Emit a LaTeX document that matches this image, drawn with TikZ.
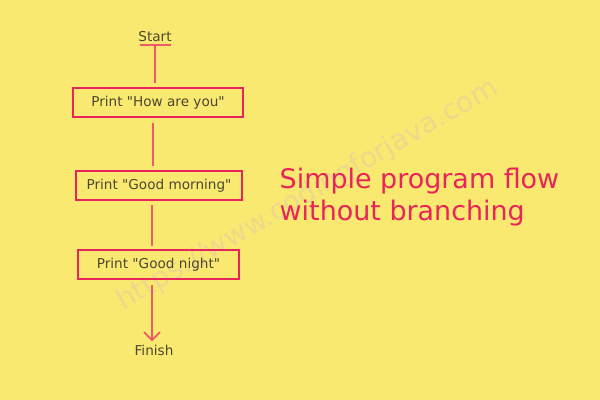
\documentclass[tikz,border=0pt]{standalone}
\usepackage{fontspec}
\setmainfont{DejaVu Sans}[Ligatures=TeXOff]
\usetikzlibrary{arrows.meta}
\definecolor{bg}{HTML}{FAE970}
\definecolor{boxc}{HTML}{E8245A}
\definecolor{linec}{HTML}{EE5A66}
\definecolor{txt}{HTML}{4A4630}
\definecolor{wm}{HTML}{EDD98C}
\begin{document}
\begin{tikzpicture}[x=0.75pt,y=-0.75pt,
  pbox/.style={draw=boxc,line width=1.5pt,rectangle,minimum height=22pt,text=txt,font=\fontsize{10.2}{12}\selectfont,inner sep=0pt},
  conn/.style={draw=linec,line width=1.3pt},
  lbl/.style={text=txt,font=\fontsize{10.2}{12}\selectfont}]
\fill[bg] (0,0) rectangle (600,400);
\useasboundingbox (0,0) rectangle (600,400);
\node[text=wm,rotate=30,font=\fontsize{21}{24}\selectfont] (wmk) at (308,195) {https://www.codingforjava.com};
\node[lbl] (start) at (155,37) {Start};
\coordinate (bl) at (140,45); \coordinate (br) at (171,45); \coordinate (bm) at (155,45);
\draw[conn] (bl) -- (br);
\node[pbox,minimum width=127.5pt] (b1) at (158,102.5) {Print "How are you"};
\node[pbox,minimum width=124.5pt] (b2) at (159,185.5) {Print "Good morning"};
\node[pbox,minimum width=120.75pt] (b3) at (158.5,264.5) {Print "Good night"};
\node[lbl] (fin) at (154,350) {Finish};
\draw[conn] (bm) -- ([yshift=3pt]b1.north -| bm);
\draw[conn] ([yshift=-3.5pt]b1.south -| 153,0) -- ([yshift=3pt]b2.north -| 153,0);
\draw[conn] ([yshift=-3pt]b2.south -| 152,0) -- ([yshift=2.5pt]b3.north -| 152,0);
\draw[conn,-{Straight Barb[length=6pt,width=12pt]}] ([yshift=-3.5pt]b3.south -| 152,0) -- ([yshift=-1pt]fin.north -| 152,0);
\node[text=boxc,anchor=west,align=left,font=\fontsize{20.2}{24}\selectfont] (title) at (275,197) {Simple program flow\\without branching};
\end{tikzpicture}
\end{document}
